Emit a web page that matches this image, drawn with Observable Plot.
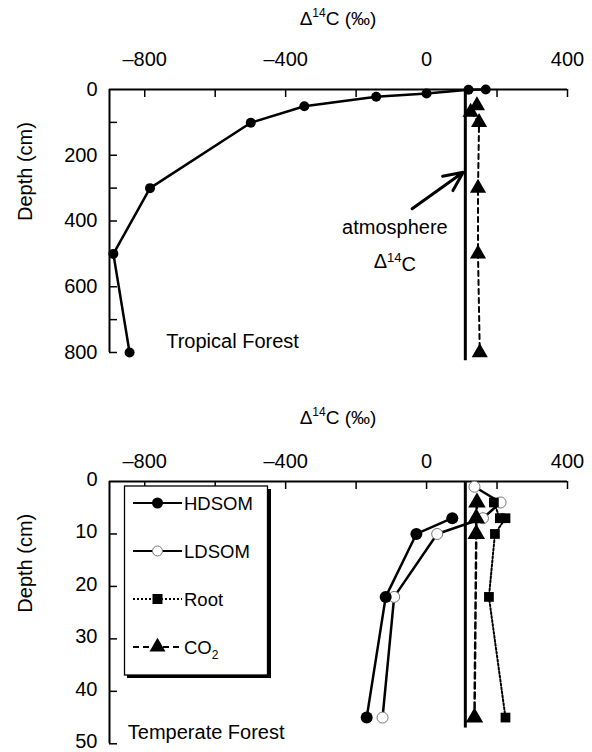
<!DOCTYPE html>
<html>
<head>
<meta charset="utf-8">
<script src="https://cdn.jsdelivr.net/npm/d3@7"></script>
<script src="https://cdn.jsdelivr.net/npm/@observablehq/plot@0.6"></script>
<style>
  body { margin: 0; background: #fff; }
  #wrap { position: relative; width: 592px; height: 752px; overflow: hidden; font-family: "Liberation Sans", Arial, sans-serif; }
  .panel { position: absolute; left: 0; }
  #overlay { position: absolute; left: 0; top: 0; pointer-events: none; }
</style>
</head>
<body>
<div id="wrap">
  <div id="p1" class="panel" style="top:0px"></div>
  <div id="p2" class="panel" style="top:380px"></div>
</div>
<script>
// ---------- Data ----------
// Axis ticks
const xTicks = [-800, -600, -400, -200, 0, 200, 400];
const xTickLabels = [-800, -400, 0, 400];
const topDepthTicks = [100, 200, 300, 400, 500, 600, 700, 800];
const topDepthLabels = [0, 200, 400, 600, 800];
const botDepthTicks = [10, 20, 30, 40, 50];
const botDepthLabels = [0, 10, 20, 30, 40, 50];

// Atmospheric Δ14C (vertical reference line)
const atmosphere = 110;

// Tropical forest (top panel)
const tropDepth = [0, 1, 12, 22, 51, 101, 300, 500, 800];
const tropHDSOM = [168, 119, 0, -143, -347, -499, -785, -889, -843];
const tropCO2Depth = [49, 69, 100, 300, 500, 800];
const tropCO2 = [143, 125, 149, 146, 146, 151];

// Temperate forest (bottom panel)
const hdDepth = [7, 10, 22, 45];
const hdsom = [73, -29, -116, -170];
const ldDepth = [1, 4, 7, 10, 22, 45];
const ldsom = [136, 210, 160, 30, -92, -125];
const rootDepth = [4, 7, 7, 10, 22, 45];
const root = [191, 208, 224, 194, 177, 224];
const co2Depth = [4, 7, 10, 45];
const co2 = [143, 141, 141, 136];

// Annotations (data coordinates)
const arrowNote = [{x1: -41, y1: 363, x2: 104, y2: 252}];
const atmosLabel = ["atmosphere", "Δ14C"];
const atmosLabelX = -90;
const atmosLabelDepth = [419, 523];
const topPanelLabel = {text: "Tropical Forest", x: -739, depth: 766};
const botPanelLabel = {text: "Temperate Forest", x: -848, depth: 47.8};
const atmosExtentTop = 825;
const atmosExtentBot = 47;

const legendItems = ["HDSOM", "LDSOM", "Root", "CO2"];

// ---------- helpers ----------
const zip = (ds, vs) => ds.map((d, i) => ({depth: d, c14: vs[i]}));
const FONT = "Liberation Sans, Arial, Helvetica, sans-serif";
const W = 592;
const fmt = d => (d < 0 ? "\u2013" + Math.abs(d) : String(d));

function frameMarks(cfg) {
  const plotH = cfg.height - cfg.marginTop - cfg.marginBottom;
  const plotW = W - cfg.marginLeft - cfg.marginRight;
  return [
    Plot.tickX(xTicks, {x: d => d, insetBottom: plotH - 8, strokeWidth: 1.5}),
    Plot.tickY(cfg.depthTicks, {y: d => d, insetRight: plotW - 8, strokeWidth: 1.5}),
    Plot.ruleY([0], {strokeWidth: 2}),
    Plot.ruleX([-900], {strokeWidth: 2}),
    Plot.axisX({anchor: "top", ticks: xTickLabels, tickFormat: fmt, tickSize: 0, tickPadding: cfg.xPad, label: null, fontSize: 20}),
    Plot.axisY({anchor: "left", ticks: cfg.depthLabels, tickSize: 0, tickPadding: 12, label: null, fontSize: 20, dy: cfg.yDy}),
    Plot.text(["Depth (cm)"], {frameAnchor: "left", rotate: -90, dx: -84, fontSize: 20})
  ];
}

function fixSuper(svg) {
  d3.select(svg).selectAll("text").each(function() {
    if (this.textContent === "Δ14C") {
      const el = d3.select(this);
      el.text("");
      el.append("tspan").text("Δ");
      el.append("tspan").attr("dy", "-0.45em").attr("font-size", "13px").text("14");
      el.append("tspan").attr("dy", "0.45em").text("C");
    }
  });
}

// ---------- Top panel ----------
const cfg1 = {height: 380, marginTop: 89, marginBottom: 28, marginLeft: 109, marginRight: 25,
  depthTicks: topDepthTicks, depthLabels: topDepthLabels, xPad: 24, yDy: 0};
const trop = zip(tropDepth, tropHDSOM);
const tropC = zip(tropCO2Depth, tropCO2);

const p1 = Plot.plot({
  width: W, height: cfg1.height,
  marginTop: cfg1.marginTop, marginBottom: cfg1.marginBottom,
  marginLeft: cfg1.marginLeft, marginRight: cfg1.marginRight,
  x: {domain: [-900, 400]},
  y: {domain: [0, 800], reverse: true},
  style: {fontFamily: FONT, fontSize: "20px", color: "black", background: "transparent", overflow: "visible"},
  marks: [
    ...frameMarks(cfg1),
    Plot.ruleX([atmosphere], {x: d => d, y1: 0, y2: atmosExtentTop, strokeWidth: 3}),
    Plot.line(tropC, {x: "c14", y: "depth", strokeWidth: 2, strokeDasharray: "5,4"}),
    Plot.dot(tropC, {x: "c14", y: "depth", symbol: "triangle", r: 6, fill: "black", stroke: "none"}),
    Plot.line(trop, {x: "c14", y: "depth", strokeWidth: 2.5}),
    Plot.dot(trop, {x: "c14", y: "depth", r: 5, fill: "black", stroke: "none"}),
    Plot.arrow(arrowNote, {x1: "x1", y1: "y1", x2: "x2", y2: "y2", strokeWidth: 3, headLength: 14, headAngle: 50}),
    Plot.text(atmosLabel, {x: () => atmosLabelX, y: (d, i) => atmosLabelDepth[i], text: d => d, fontSize: 20}),
    Plot.text([topPanelLabel], {x: "x", y: "depth", text: "text", textAnchor: "start", fontSize: 20})
  ]
});
fixSuper(p1);
document.getElementById("p1").appendChild(p1);

// ---------- Bottom panel ----------
const cfg2 = {height: 372, marginTop: 101, marginBottom: 8.7, marginLeft: 109, marginRight: 25,
  depthTicks: botDepthTicks, depthLabels: botDepthLabels, xPad: 14, yDy: -2};
const hd = zip(hdDepth, hdsom);
const ld = zip(ldDepth, ldsom);
const rt = zip(rootDepth, root);
const cc = zip(co2Depth, co2);

const p2 = Plot.plot({
  width: W, height: cfg2.height,
  marginTop: cfg2.marginTop, marginBottom: cfg2.marginBottom,
  marginLeft: cfg2.marginLeft, marginRight: cfg2.marginRight,
  x: {domain: [-900, 400]},
  y: {domain: [0, 50], reverse: true},
  style: {fontFamily: FONT, fontSize: "20px", color: "black", background: "transparent", overflow: "visible"},
  marks: [
    ...frameMarks(cfg2),
    Plot.ruleX([atmosphere], {x: d => d, y1: 0, y2: atmosExtentBot, strokeWidth: 3}),
    Plot.line(ld, {x: "c14", y: "depth", strokeWidth: 2.5}),
    Plot.dot(ld, {x: "c14", y: "depth", r: 5.5, fill: "white", stroke: "#777", strokeWidth: 1}),
    Plot.line(hd, {x: "c14", y: "depth", strokeWidth: 2.5}),
    Plot.dot(hd, {x: "c14", y: "depth", r: 6, fill: "black", stroke: "none"}),
    Plot.line(rt, {x: "c14", y: "depth", strokeWidth: 2, strokeDasharray: "2,2"}),
    Plot.dot(rt, {x: "c14", y: "depth", symbol: "square", r: 5.5, fill: "black", stroke: "none"}),
    Plot.line(cc, {x: "c14", y: "depth", strokeWidth: 2.5, strokeDasharray: "6,4"}),
    Plot.dot(cc, {x: "c14", y: "depth", symbol: "triangle", r: 6.5, fill: "black", stroke: "none"}),
    Plot.text([botPanelLabel], {x: "x", y: "depth", text: "text", textAnchor: "start", fontSize: 20})
  ]
});
document.getElementById("p2").appendChild(p2);

// ---------- Overlay: titles and legend ----------
const ov = d3.select("#wrap").append("svg")
  .attr("id", "overlay").attr("width", W).attr("height", 752)
  .style("font-family", FONT);

function title(y) {
  const t = ov.append("text").attr("x", 338).attr("y", y).attr("text-anchor", "middle").attr("font-size", 19);
  t.append("tspan").text("Δ");
  t.append("tspan").attr("dy", -8).attr("font-size", 12).text("14");
  t.append("tspan").attr("dy", 8).text("C (‰)");
}
title(25);
title(424);

// legend box with drop shadow
const lg = ov.append("g");
lg.append("rect").attr("x", 124.5).attr("y", 486).attr("width", 143).attr("height", 189)
  .attr("fill", "white").attr("stroke", "black").attr("stroke-width", 1.3);
lg.append("path").attr("d", "M127,676.5 H269.5 V489").attr("fill", "none").attr("stroke", "black").attr("stroke-width", 3);

const legY = [503, 551, 599, 647];
const legStyle = [
  {dash: null, w: 2},
  {dash: null, w: 2},
  {dash: "2,2", w: 2},
  {dash: "6,4", w: 2}
];
legendItems.forEach((name, i) => {
  const y = legY[i];
  const ln = lg.append("line").attr("x1", 133).attr("x2", 182).attr("y1", y).attr("y2", y)
    .attr("stroke", "black").attr("stroke-width", legStyle[i].w);
  if (legStyle[i].dash) ln.attr("stroke-dasharray", legStyle[i].dash);
  const cx = 157.5;
  if (i === 0) lg.append("circle").attr("cx", cx).attr("cy", y).attr("r", 5.5).attr("fill", "black");
  if (i === 1) lg.append("circle").attr("cx", cx).attr("cy", y).attr("r", 5).attr("fill", "white").attr("stroke", "#777").attr("stroke-width", 1);
  if (i === 2) lg.append("rect").attr("x", cx - 5).attr("y", y - 5).attr("width", 10).attr("height", 10).attr("fill", "black");
  if (i === 3) lg.append("path").attr("d", d3.symbol(d3.symbolTriangle, 110)()).attr("transform", `translate(${cx},${y})`).attr("fill", "black");
  const t = lg.append("text").attr("x", 184).attr("y", y).attr("dy", "0.36em").attr("font-size", 18.5);
  if (name === "CO2") {
    t.append("tspan").text("CO");
    t.append("tspan").attr("dy", 5).attr("font-size", 12).text("2");
  } else {
    t.text(name);
  }
});
</script>
</body>
</html>
